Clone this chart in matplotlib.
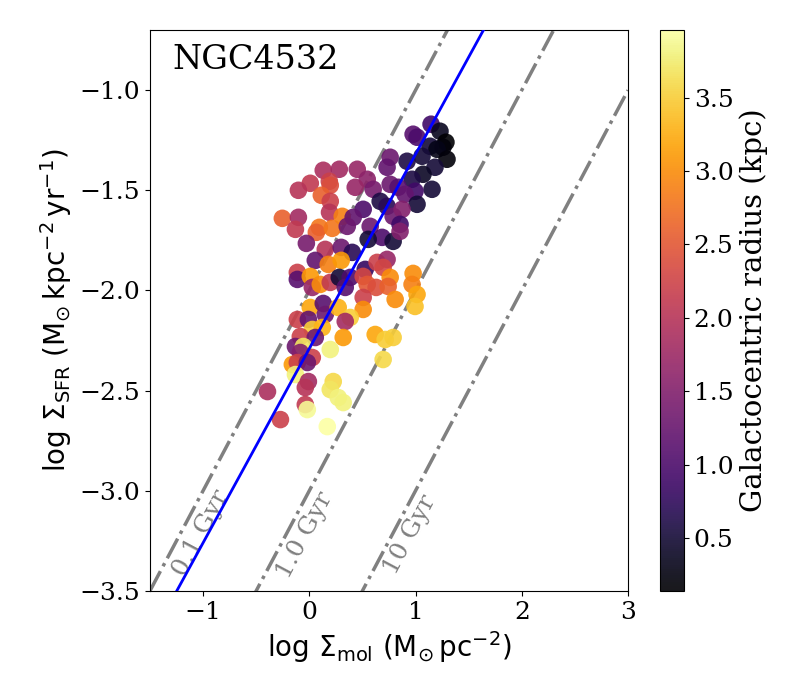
import numpy as np
import matplotlib
matplotlib.use('Agg')
import matplotlib.pyplot as plt

plt.rcParams['font.family'] = 'serif'
plt.rcParams['font.size'] = 18

# log Sigma_mol, log Sigma_SFR, galactocentric radius (kpc)
log_mol = [1.146, 1.230, 0.977, 1.014, 1.286, 1.258, 1.136, 1.202, 1.296, 1.061,
           0.920, 0.761, 0.732, 1.183, 0.451, 1.070, 0.967, 1.155, 0.545, 0.432,
           0.601, 0.761, 0.836, 0.995, 0.901, 0.667, 1.014, 0.507, 0.732, 0.789,
           0.873, 0.854,
           0.131, 0.282, 0.009, 0.188, -0.103, 0.197, 0.113, 0.197, 0.190, -0.254,
           -0.103, -0.131, 0.094, 0.066, 0.216, 0.310, 0.413, 0.357, 0.573, 0.685,
           0.554, 0.789, 0.854,
           -0.028, 0.150, 0.300, 0.404, 0.056, 0.178, 0.300, -0.113, -0.113, 0.009,
           0.028, 0.103, 0.197, 0.282, 0.385, 0.338, 0.526, 0.638, 0.732, 0.695,
           0.761, 0.507, 0.545, 0.629, 0.742, 0.977, 0.967, 1.014, 0.995, 0.808,
           0.507, 0.507,
           0.009, 0.131, 0.150, 0.272, 0.385, 0.338, -0.113, -0.009, 0.028, 0.122,
           -0.085, 0.056, 0.319, -0.131, -0.056, -0.085, 0.028, 0.197, 0.620, 0.714,
           0.789, 0.695, -0.160, -0.113, -0.019, -0.131, -0.009, -0.038, 0.225, 0.197,
           0.272, 0.319, -0.038, -0.019, -0.394, -0.272, 0.169]
log_sfr = [-1.170, -1.205, -1.220, -1.235, -1.260, -1.285, -1.280, -1.295, -1.345, -1.330,
           -1.355, -1.335, -1.385, -1.385, -1.395, -1.420, -1.445, -1.495, -1.445, -1.485,
           -1.495, -1.470, -1.485, -1.505, -1.520, -1.555, -1.570, -1.595, -1.580, -1.630,
           -1.595, -1.670,
           -1.400, -1.395, -1.465, -1.455, -1.500, -1.475, -1.525, -1.555, -1.610, -1.640,
           -1.635, -1.695, -1.685, -1.710, -1.690, -1.630, -1.635, -1.680, -1.680, -1.735,
           -1.745, -1.755, -1.705,
           -1.765, -1.795, -1.785, -1.810, -1.850, -1.870, -1.850, -1.910, -1.945, -1.930,
           -1.985, -1.970, -1.960, -1.935, -1.935, -1.985, -1.895, -1.860, -1.845, -1.885,
           -1.935, -1.930, -1.970, -1.985, -1.980, -1.915, -1.970, -2.020, -2.080, -2.045,
           -2.035, -2.095,
           -2.085, -2.065, -2.120, -2.085, -2.135, -2.155, -2.145, -2.145, -2.195, -2.185,
           -2.230, -2.235, -2.235, -2.280, -2.280, -2.310, -2.335, -2.295, -2.220, -2.245,
           -2.235, -2.345, -2.370, -2.360, -2.360, -2.420, -2.455, -2.485, -2.455, -2.495,
           -2.535, -2.560, -2.570, -2.595, -2.505, -2.645, -2.680]
radius = [0.9, 0.35, 1.1, 1.0, 0.14, 0.2, 0.5, 0.3, 0.2, 0.5,
          0.6, 1.3, 1.2, 0.5, 1.7, 0.4, 0.6, 0.5, 1.6, 1.7,
          1.4, 1.3, 1.1, 0.9, 1.2, 0.6, 0.5, 1.0, 0.7, 1.3,
          1.5, 0.9,
          1.9, 1.8, 2.1, 2.2, 2.0, 2.4, 2.6, 2.2, 2.0, 2.6,
          1.8, 2.1, 2.8, 2.6, 2.8, 2.9, 1.2, 1.3, 1.3, 1.0,
          0.5, 0.5, 1.5,
          1.4, 2.0, 1.3, 0.7, 1.2, 2.9, 3.1, 2.2, 1.1, 3.1,
          1.7, 3.0, 2.1, 0.5, 1.0, 1.1, 0.8, 2.2, 1.7, 2.3,
          3.0, 2.3, 2.5, 2.4, 2.6, 3.0, 2.9, 3.2, 3.4, 3.0,
          2.2, 3.0,
          3.2, 1.1, 1.3, 3.3, 3.5, 1.8, 2.2, 1.2, 3.5, 3.3,
          2.2, 1.3, 3.1, 1.3, 3.7, 1.5, 2.2, 3.8, 3.2, 3.5,
          3.5, 3.6, 3.1, 2.2, 1.3, 3.8, 1.8, 2.0, 3.6, 3.7,
          3.8, 3.8, 2.1, 3.9, 1.9, 2.2, 3.96]

# depletion times (Gyr) and fitted relation
tdep_gyr = [0.1, 1.0, 10]
tdep_labels = ['0.1 Gyr', '1.0 Gyr', '10 Gyr']
label_x = [-1.02, -0.04, 0.95]
label_y = [-3.21, -3.22, -3.22]
fit_slope, fit_icpt = 0.97, -2.29

fig = plt.figure(figsize=(8, 7), dpi=100)
ax = fig.add_axes([0.1875, 0.156, 0.5975, 0.801])
cax = fig.add_axes([0.825, 0.156, 0.03, 0.801])

xx = np.array([-1.5, 3.0])
for t, lab, lx, ly in zip(tdep_gyr, tdep_labels, label_x, label_y):
    # Sigma_mol in Msun/pc^2 -> Msun/kpc^2 (1e6), t in yr
    ax.plot(xx, xx + 6 - np.log10(t * 1e9), ls='-.', color='gray', lw=2.5, zorder=1)
    ax.text(lx, ly, lab, color='gray', fontsize=18, rotation=62,
            ha='center', va='center', rotation_mode='anchor')

sc = ax.scatter(log_mol, log_sfr, c=radius, cmap='inferno', s=160,
                alpha=0.9, edgecolors='none', zorder=2)
ax.plot(xx, fit_slope * xx + fit_icpt, color='blue', lw=2, zorder=3)

ax.set_xlim(-1.5, 3)
ax.set_ylim(-3.5, -0.7)
ax.set_xticks([-1, 0, 1, 2, 3])
ax.set_yticks([-3.5, -3.0, -2.5, -2.0, -1.5, -1.0])
ax.set_xlabel(r'$\log\,\Sigma_{\rm mol}\ ({\rm M_{\odot}\,pc^{-2}})$', fontsize=20)
ax.set_ylabel(r'$\log\,\Sigma_{\rm SFR}\ ({\rm M_{\odot}\,kpc^{-2}\,yr^{-1}})$', fontsize=20)
ax.text(0.046, 0.93, 'NGC4532', transform=ax.transAxes, fontsize=24, va='baseline')

cb = fig.colorbar(sc, cax=cax)
cb.set_label('Galactocentric radius (kpc)', fontsize=21)
cb.set_ticks([0.5, 1.0, 1.5, 2.0, 2.5, 3.0, 3.5])

fig.savefig('out.png', dpi=100)
